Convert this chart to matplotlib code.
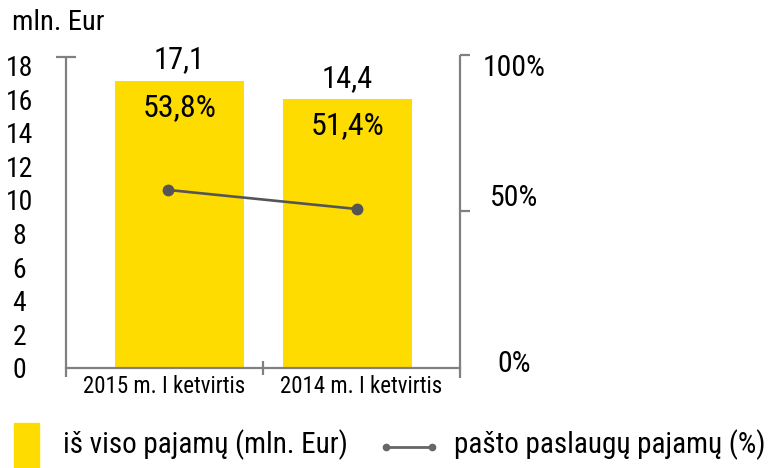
import matplotlib
matplotlib.use("Agg")
import matplotlib.pyplot as plt
from matplotlib import font_manager
from matplotlib.patches import Rectangle
from matplotlib.lines import Line2D
import matplotlib.transforms as mtransforms

# ---------------- data ----------------
categories = ["2015 m. I ketvirtis", "2014 m. I ketvirtis"]
revenue = [17.1, 16.0]                 # bar heights as drawn (mln. Eur axis)
revenue_labels = ["17,1", "14,4"]
postal_share = [56.9, 50.8]            # line points as drawn (% axis)
postal_share_labels = ["53,8%", "51,4%"]
left_ticks = [0, 2, 4, 6, 8, 10, 12, 14, 16, 18]
right_ticks = [0, 50, 100]
right_tick_labels = ["0%", "50%", "100%"]
y_unit = "mln. Eur"
legend_labels = ["iš viso pajamų (mln. Eur)", "pašto paslaugų pajamų (%)"]

# ---------------- style ----------------
avail = {f.name for f in font_manager.fontManager.ttflist}
FONT = "Roboto"
for fam in ["Roboto Condensed", "Liberation Sans Narrow", "Open Sans Condensed", "Roboto"]:
    if fam in avail:
        FONT = fam
        break
plt.rcParams["font.family"] = [FONT, "DejaVu Sans"]

YELLOW = "#FFDC00"
AXIS_GRAY = "#808080"
LINE_GRAY = "#555555"
TXT = "#000000"

W, H = 768, 468
fig = plt.figure(figsize=(W / 100, H / 100), dpi=100)

def fx(x):
    return x / W

def fy(y):
    return 1 - y / H

# axes: x from 66 to 460 px, y from 55 (top) to 368 (bottom)
ax = fig.add_axes([fx(66), fy(368), fx(460) - fx(66), fy(55) - fy(368)])
PX_PER_UNIT = 16.8
ax.set_ylim(0, 313 / PX_PER_UNIT)
ax.set_xlim(-0.5, 1.5)

xs = list(range(len(categories)))
bar_shift = [0.076, -0.071]
bar_x = [x + s for x, s in zip(xs, bar_shift)]
ax.bar(bar_x, revenue, width=0.655, color=YELLOW, zorder=2)

for bx, v, lab in zip(bar_x, revenue, revenue_labels):
    ax.annotate(lab, (bx, v), xytext=(0, 9), textcoords="offset points",
                ha="center", va="baseline", fontsize=22, color=TXT, zorder=5)

# spines
for s in ["top", "right", "left"]:
    ax.spines[s].set_visible(False)
ax.spines["bottom"].set_color(AXIS_GRAY)
ax.spines["bottom"].set_linewidth(1.6)
trans_l = mtransforms.blended_transform_factory(ax.transAxes, ax.transData)
ax.plot([0, 0], [-9 / PX_PER_UNIT, 311 / PX_PER_UNIT], transform=trans_l,
        color=AXIS_GRAY, lw=1.6, clip_on=False, solid_capstyle="butt", zorder=3)

# left ticks: labels on major (no mark), marks on minor
ax.set_yticks(left_ticks)
ax.set_yticklabels([str(t) for t in left_ticks])
ax.set_yticks(left_ticks[1:-1] + [311 / PX_PER_UNIT], minor=True)
ax.tick_params(axis="y", which="major", length=0, pad=33.5, labelsize=20, labelcolor=TXT)
ax.tick_params(axis="y", which="minor", direction="inout", length=14.4, width=1.6, color=AXIS_GRAY)
for lab in ax.get_yticklabels():
    lab.set_ha("center")

# x ticks
ax.set_xticks(xs)
ax.set_xticklabels(categories)
ax.set_xticks([0.5], minor=True)
ax.tick_params(axis="x", which="major", length=0, pad=5, labelsize=16.5, labelcolor=TXT)
ax.tick_params(axis="x", which="minor", direction="inout", length=10, width=1.6, color=AXIS_GRAY)

# right axis
ax2 = ax.twinx()
ax2.set_ylim(0, 100)
for s in ["top", "right", "left", "bottom"]:
    ax2.spines[s].set_visible(False)
trans_r = mtransforms.blended_transform_factory(ax2.transAxes, ax2.transData)
ax2.plot([1, 1], [-10 / 3.13, 100], transform=trans_r, color=AXIS_GRAY, lw=1.6,
         clip_on=False, solid_capstyle="butt", zorder=3)
label_dy_px = [7, 16, -10]   # label centre offset above the tick mark
ax2.set_yticks([t + d / 3.13 for t, d in zip(right_ticks, label_dy_px)])
ax2.set_yticklabels(right_tick_labels)
ax2.set_yticks(right_ticks[1:], minor=True)
ax2.tick_params(axis="y", which="major", length=0, pad=39, labelsize=21.5, labelcolor=TXT)
ax2.tick_params(axis="y", which="minor", direction="out", length=7.5, width=1.6, color=AXIS_GRAY)
for lab in ax2.get_yticklabels():
    lab.set_ha("center")

pt_shift = [0.016, -0.024]
pt_x = [x + s for x, s in zip(xs, pt_shift)]
ax2.plot(pt_x, postal_share, color=LINE_GRAY, lw=1.9, marker="o", ms=7.5, zorder=4)

for bx, v, lab in zip(bar_x, revenue, postal_share_labels):
    ax.annotate(lab, (bx, v), xytext=(0, -25.5), textcoords="offset points",
                ha="center", va="baseline", fontsize=23, color=TXT, zorder=5)

# unit label
fig.text(fx(12), fy(30), y_unit, ha="left", va="baseline", fontsize=20.5, color=TXT)

# legend (drawn by hand)
fig.add_artist(Rectangle((fx(14), fy(468)), fx(39) - fx(14), fy(423) - fy(468),
                         transform=fig.transFigure, color=YELLOW))
fig.text(fx(63), fy(445), legend_labels[0], ha="left", va="center", fontsize=21, color=TXT)
fig.add_artist(Line2D([fx(386), fx(432)], [fy(447), fy(447)], transform=fig.transFigure,
                      color="#666666", lw=2, marker="o", ms=4.5))
fig.text(fx(454), fy(445), legend_labels[1], ha="left", va="center", fontsize=21, color=TXT)

fig.savefig("out.png", dpi=100)
